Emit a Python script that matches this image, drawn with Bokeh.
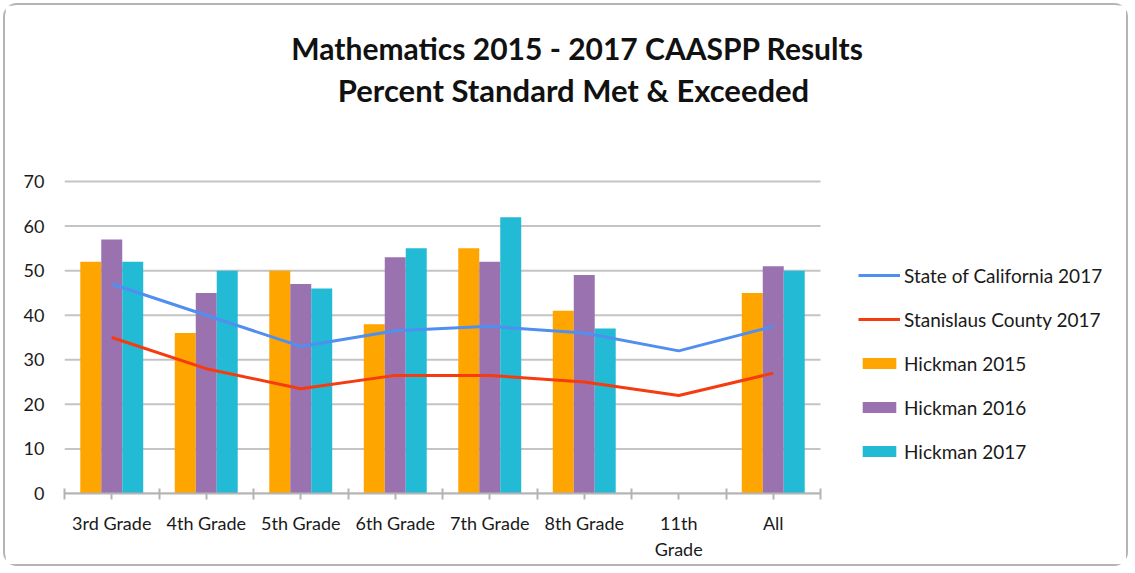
from bokeh.plotting import figure
from bokeh.models import (ColumnDataSource, FixedTicker, Legend, LegendItem, Label, Range1d)
from bokeh.embed import file_html
from bokeh.resources import INLINE

categories = ["3rd Grade", "4th Grade", "5th Grade", "6th Grade", "7th Grade", "8th Grade", "11th\nGrade", "All"]
hickman_2015 = [52, 36, 50, 38, 55, 41, None, 45]
hickman_2016 = [57, 45, 47, 53, 52, 49, None, 51]
hickman_2017 = [52, 50, 46, 55, 62, 37, None, 50]
state_ca_2017 = [47, 40, 33, 36.5, 37.5, 36, 32, 37.5]
stanislaus_2017 = [35, 28, 23.5, 26.5, 26.5, 25, 22, 27]
y_ticks = [0, 10, 20, 30, 40, 50, 60, 70]
title_lines = ["Mathematics 2015 - 2017 CAASPP Results", "Percent Standard Met & Exceeded"]

FONT = "Lato"
n = len(categories)
centers = [i + 0.5 for i in range(n)]
bw = 0.222

W, H = 1125, 563
ML, MB = 59, 75
CAT_PX = 94.5          # pixels per category
Y_PX = 312 / 70        # pixels per percent
x_end = (W - ML) / CAT_PX
y_end = (H - MB) / Y_PX

p = figure(width=W, height=H, output_backend="svg", toolbar_location=None,
           x_range=Range1d(0, x_end), y_range=Range1d(0, y_end), title_location=None,
           min_border_left=ML, min_border_right=0, min_border_top=0, min_border_bottom=MB)
p.margin = (3, 0, 0, 3)
p.styles = {"border": "2px solid #b4b4b4", "border-radius": "14px"}
p.outline_line_color = None
p.background_fill_color = "white"
p.border_fill_color = "white"

# horizontal gridlines, limited to the category span
p.xgrid.grid_line_color = None
p.ygrid.grid_line_color = None
p.segment(x0=[0] * len(y_ticks), x1=[n] * len(y_ticks), y0=y_ticks, y1=y_ticks,
          line_color="#c4c4c4", line_width=2)

def clean(vals):
    return [float("nan") if v is None else v for v in vals]

series = [(hickman_2015, "#ffa500", "Hickman 2015", -bw),
          (hickman_2016, "#9b72b0", "Hickman 2016", 0.0),
          (hickman_2017, "#22bad4", "Hickman 2017", bw)]
bar_renderers = []
for vals, col, name, off in series:
    src = ColumnDataSource(dict(x=[c + off for c in centers], top=clean(vals)))
    r = p.vbar(x="x", top="top", width=bw, source=src, fill_color=col, line_color=None)
    bar_renderers.append((name, r))

r_ca = p.line(centers, state_ca_2017, line_color="#4f8ff0", line_width=3)
r_st = p.line(centers, stanislaus_2017, line_color="#f53b10", line_width=3)

# axes
p.yaxis.ticker = FixedTicker(ticks=y_ticks)
p.yaxis.axis_line_color = None
p.yaxis.major_tick_line_color = None
p.yaxis.minor_tick_line_color = None
p.yaxis.major_label_standoff = 14
p.yaxis.major_label_text_font = FONT
p.yaxis.major_label_text_font_size = "18px"
p.yaxis.major_label_text_color = "#1a1a1a"

p.xaxis.bounds = (0, n)
p.xaxis.ticker = FixedTicker(ticks=centers, minor_ticks=list(range(n + 1)))
p.xaxis.major_label_overrides = {c: lab for c, lab in zip(centers, categories)}
p.xaxis.axis_line_color = "#b4b4b4"
p.xaxis.axis_line_width = 2
p.xaxis.major_tick_line_color = "#b4b4b4"
p.xaxis.major_tick_line_width = 2
p.xaxis.major_tick_in = 0
p.xaxis.major_tick_out = 6
p.xaxis.minor_tick_line_color = "#b4b4b4"
p.xaxis.minor_tick_line_width = 2
p.xaxis.minor_tick_in = 5
p.xaxis.minor_tick_out = 6
p.xaxis.major_label_standoff = 12
p.xaxis.major_label_text_font = FONT
p.xaxis.major_label_text_font_size = "18px"
p.xaxis.major_label_text_color = "#1a1a1a"

# title (screen units relative to the plot frame's bottom-left)
for t, (sx, sy, fs) in zip(title_lines, [(513, 446, "30px"), (509, 404, "31px")]):
    p.add_layout(Label(x=sx, y=sy, x_units="screen", y_units="screen", text=t,
                       text_font=FONT, text_font_style="bold", text_font_size=fs,
                       text_color="#111111", text_align="center", text_baseline="middle"))

items = [LegendItem(label="State of California 2017", renderers=[r_ca]),
         LegendItem(label="Stanislaus County 2017", renderers=[r_st])]
items += [LegendItem(label=name, renderers=[r]) for name, r in bar_renderers]
legend = Legend(items=items, location=(794, 30), orientation="vertical",
                border_line_color=None, background_fill_alpha=0,
                padding=0, margin=0, spacing=20, glyph_width=42, glyph_height=14,
                label_height=24, label_standoff=4,
                label_text_font=FONT, label_text_font_size="19px", label_text_color="#1a1a1a")
p.add_layout(legend, "center")

open("out.html", "w").write(file_html(p, INLINE))
